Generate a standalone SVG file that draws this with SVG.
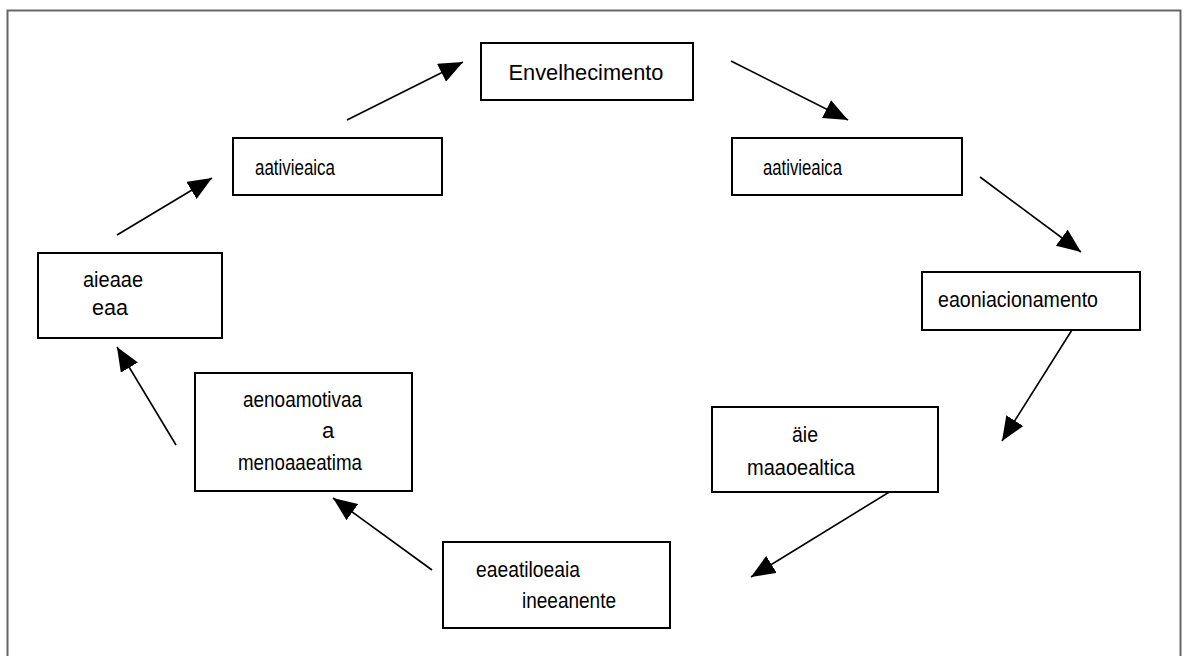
<svg xmlns="http://www.w3.org/2000/svg" width="1188" height="656" viewBox="0 0 1188 656">
<defs>
<style>
.box{fill:#fff;stroke:#000;stroke-width:2}
.t{font-family:"Liberation Sans",Arial,sans-serif;font-size:22px;fill:#000}
.c{stroke:#000;stroke-width:1.6;fill:none}
</style>
<marker id="ah2" viewBox="0 0 24 20" refX="24" refY="10" markerWidth="24" markerHeight="20" markerUnits="userSpaceOnUse" orient="auto">
<path d="M0,0 L24,10 L0,20 Z" fill="#000"/>
</marker>
</defs>
<rect x="0" y="0" width="1188" height="656" fill="#fff"/>
<path d="M7.5,670 V10.5 H1180.5 V670" fill="none" stroke="#666" stroke-width="2"/>

<g id="connectors">
<line class="c" x1="117" y1="235" x2="212" y2="178" marker-end="url(#ah2)"/>
<line class="c" x1="347" y1="120" x2="463" y2="62" marker-end="url(#ah2)"/>
<line class="c" x1="731" y1="61" x2="848" y2="120" marker-end="url(#ah2)"/>
<line class="c" x1="980" y1="177" x2="1081" y2="252" marker-end="url(#ah2)"/>
<line class="c" x1="1077" y1="322" x2="1002" y2="441" marker-end="url(#ah2)"/>
<line class="c" x1="917" y1="475" x2="751" y2="577" marker-end="url(#ah2)"/>
<line class="c" x1="432" y1="570" x2="333" y2="498" marker-end="url(#ah2)"/>
<line class="c" x1="176" y1="445" x2="117" y2="347" marker-end="url(#ah2)"/>
</g>

<g id="envelhecimento">
<rect class="box" x="481" y="43" width="212" height="57"/>
<text class="t" x="586" y="80" text-anchor="middle" textLength="155" lengthAdjust="spacingAndGlyphs">Envelhecimento</text>
</g>
<g id="atividade-direita">
<rect class="box" x="732" y="138" width="230" height="57"/>
<text class="t" x="763" y="175" textLength="79" lengthAdjust="spacingAndGlyphs">aativieaica</text>
</g>
<g id="condicionamento">
<rect class="box" x="922" y="272" width="218" height="58"/>
<text class="t" x="938" y="307" textLength="160" lengthAdjust="spacingAndGlyphs">eaoniacionamento</text>
</g>
<g id="mobilidade">
<rect class="box" x="712" y="407" width="226" height="85"/>
<text class="t" x="792" y="442" textLength="26" lengthAdjust="spacingAndGlyphs">äie</text>
<text class="t" x="747" y="475" textLength="108" lengthAdjust="spacingAndGlyphs">maaoealtica</text>
</g>
<g id="estilo">
<rect class="box" x="443" y="542" width="227" height="86"/>
<text class="t" x="476" y="577" textLength="104" lengthAdjust="spacingAndGlyphs">eaeatiloeaia</text>
<text class="t" x="522" y="608" textLength="94" lengthAdjust="spacingAndGlyphs">ineeanente</text>
</g>
<g id="motivacao">
<rect class="box" x="195" y="373" width="217" height="118"/>
<text class="t" x="243" y="407" textLength="119" lengthAdjust="spacingAndGlyphs">aenoamotivaa</text>
<text class="t" x="322" y="438">a</text>
<text class="t" x="238" y="470" textLength="124" lengthAdjust="spacingAndGlyphs">menoaaeatima</text>
</g>
<g id="capacidade">
<rect class="box" x="38" y="253" width="184" height="85"/>
<text class="t" x="83" y="287" textLength="60" lengthAdjust="spacingAndGlyphs">aieaae</text>
<text class="t" x="92" y="315" textLength="36" lengthAdjust="spacingAndGlyphs">eaa</text>
</g>
<g id="atividade-esquerda">
<rect class="box" x="233" y="138" width="209" height="57"/>
<text class="t" x="255" y="175" textLength="80" lengthAdjust="spacingAndGlyphs">aativieaica</text>
</g>
</svg>
